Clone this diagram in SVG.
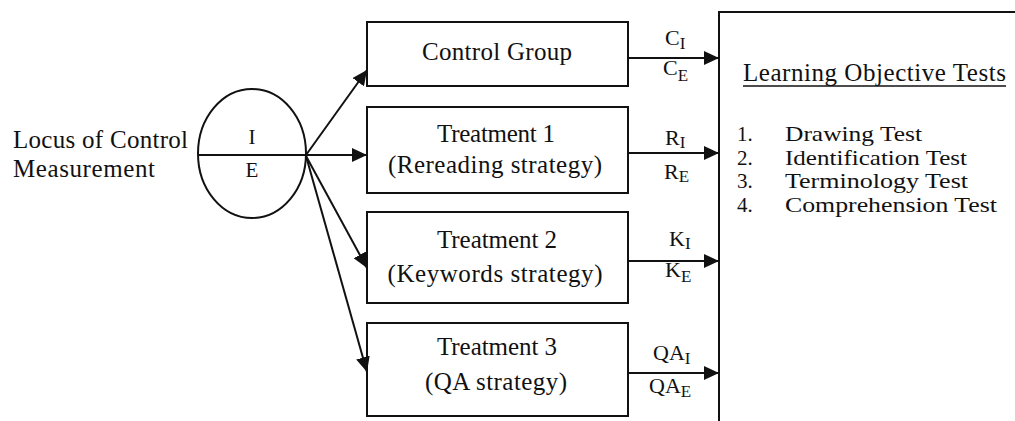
<svg xmlns="http://www.w3.org/2000/svg" width="1015" height="421" viewBox="0 0 1015 421">
  <style>
    text { font-family: "Liberation Serif", "Times New Roman", serif; fill: #111; }
    .t { font-size: 25px; }
    .li { font-size: 21px; }
    .m { font-size: 25px; text-anchor: middle; }
    .lbl { font-size: 22px; }
    .sub { font-size: 17px; }
    .box { fill: #fff; stroke: #111; stroke-width: 2; }
    .edge { stroke: #111; stroke-width: 2; fill: none; }
  </style>
  <defs>
    <marker id="arrow" markerUnits="userSpaceOnUse" markerWidth="16" markerHeight="14" refX="15" refY="7" orient="auto">
      <path d="M0,0 L15,7 L0,14 Z" fill="#111"/>
    </marker>
  </defs>

  <rect width="1015" height="421" fill="#fff"/>

  <!-- measurement label -->
  <g id="locus-label">
    <text class="t" x="13" y="148" textLength="175">Locus of Control</text>
    <text class="t" x="13" y="177" textLength="142">Measurement</text>
  </g>

  <!-- I / E split ellipse -->
  <g id="locus-ellipse">
    <ellipse cx="252" cy="153.5" rx="54" ry="64.5" fill="none" stroke="#111" stroke-width="2"/>
    <line x1="198" y1="155" x2="306" y2="155" stroke="#111" stroke-width="2"/>
    <text class="m" x="252" y="144" style="font-size:21px">I</text>
    <text class="m" x="252" y="177" style="font-size:21px">E</text>
  </g>

  <!-- groups -->
  <g id="control-group">
    <rect class="box" x="367" y="22" width="261" height="64"/>
    <text class="m" x="497" y="60" textLength="150">Control Group</text>
  </g>
  <g id="treatment-1">
    <rect class="box" x="367" y="107" width="261" height="86"/>
    <text class="m" x="496" y="142" textLength="118">Treatment 1</text>
    <text class="m" x="495" y="173" textLength="214">(Rereading strategy)</text>
  </g>
  <g id="treatment-2">
    <rect class="box" x="367" y="212" width="261" height="91"/>
    <text class="m" x="497" y="248" textLength="120">Treatment 2</text>
    <text class="m" x="495" y="282" textLength="215">(Keywords strategy)</text>
  </g>
  <g id="treatment-3">
    <rect class="box" x="367" y="323" width="261" height="93"/>
    <text class="m" x="497" y="355" textLength="120">Treatment 3</text>
    <text class="m" x="496" y="390" textLength="142">(QA strategy)</text>
  </g>

  <!-- tests panel (runs off the right and bottom edges) -->
  <g id="learning-objective-tests">
    <path d="M1017,12 H719 V423" fill="#fff" stroke="#111" stroke-width="2"/>
    <text class="t" x="743" y="81" textLength="263">Learning Objective Tests</text>
    <line x1="743" y1="86" x2="1006" y2="86" stroke="#111" stroke-width="1.5"/>
    <text class="li" x="737" y="141">1.</text>
    <text class="li" x="785" y="141" textLength="137" lengthAdjust="spacingAndGlyphs">Drawing Test</text>
    <text class="li" x="737" y="164.5">2.</text>
    <text class="li" x="785" y="164.5" textLength="182" lengthAdjust="spacingAndGlyphs">Identification Test</text>
    <text class="li" x="737" y="188">3.</text>
    <text class="li" x="785" y="188" textLength="183" lengthAdjust="spacingAndGlyphs">Terminology Test</text>
    <text class="li" x="737" y="211.5">4.</text>
    <text class="li" x="785" y="211.5" textLength="212" lengthAdjust="spacingAndGlyphs">Comprehension Test</text>
  </g>

  <!-- connectors -->
  <g id="connectors">
    <line class="edge" x1="306" y1="155" x2="367" y2="70" marker-end="url(#arrow)"/>
    <line class="edge" x1="306" y1="155" x2="367" y2="155" marker-end="url(#arrow)"/>
    <line class="edge" x1="306" y1="156" x2="367" y2="268" marker-end="url(#arrow)"/>
    <line class="edge" x1="306" y1="156" x2="367" y2="372" marker-end="url(#arrow)"/>

    <line class="edge" x1="628" y1="58" x2="719" y2="58" marker-end="url(#arrow)"/>
    <line class="edge" x1="628" y1="153" x2="719" y2="153" marker-end="url(#arrow)"/>
    <line class="edge" x1="628" y1="261" x2="719" y2="261" marker-end="url(#arrow)"/>
    <line class="edge" x1="628" y1="373" x2="719" y2="373" marker-end="url(#arrow)"/>
  </g>

  <!-- connector labels -->
  <g id="connector-labels">
    <text class="lbl" x="665" y="45">C<tspan class="sub" dy="4">I</tspan></text>
    <text class="lbl" x="663" y="75">C<tspan class="sub" dy="6">E</tspan></text>
    <text class="lbl" x="665" y="145">R<tspan class="sub" dy="3">I</tspan></text>
    <text class="lbl" x="664" y="179">R<tspan class="sub" dy="3">E</tspan></text>
    <text class="lbl" x="669" y="246">K<tspan class="sub" dy="3">I</tspan></text>
    <text class="lbl" x="665" y="277">K<tspan class="sub" dy="5">E</tspan></text>
    <text class="lbl" x="653" y="360">QA<tspan class="sub" dy="4">I</tspan></text>
    <text class="lbl" x="649" y="393">QA<tspan class="sub" dy="4">E</tspan></text>
  </g>
</svg>
